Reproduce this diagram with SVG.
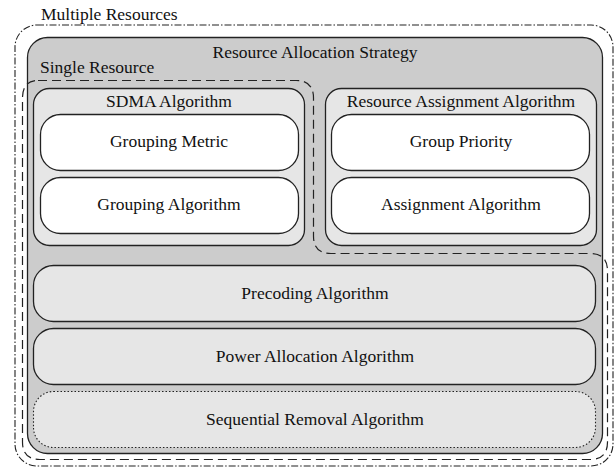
<svg xmlns="http://www.w3.org/2000/svg" width="615" height="470" viewBox="0 0 615 470">
  <style>
    text { font-family: "Liberation Serif", "Times New Roman", serif; font-size: 17.5px; fill: #111; }
    .mid { text-anchor: middle; }
    .strategy { fill: #cccccc; stroke: #222; stroke-width: 1.3; }
    .panel { fill: #e6e6e6; stroke: #222; stroke-width: 1.3; }
    .leaf { fill: #ffffff; stroke: #222; stroke-width: 1.3; }
    .optional { fill: #e6e6e6; stroke: #222; stroke-width: 1.1; stroke-dasharray: 1.5 2; }
    .multi { fill: none; stroke: #222; stroke-width: 1.1; stroke-dasharray: 7 2 1.5 2; }
    .single { fill: none; stroke: #222; stroke-width: 1.2; stroke-dasharray: 9 5; }
  </style>

  <!-- Scope: multiple resources (dash-dot) -->
  <g id="multiple-resources">
    <rect class="multi" x="15" y="25" width="598" height="441" rx="22"/>
    <text x="41" y="20">Multiple Resources</text>
  </g>

  <!-- Overall strategy container -->
  <g id="resource-allocation-strategy">
    <rect class="strategy" x="27.5" y="37.5" width="575" height="416" rx="20"/>
    <text class="mid" x="315" y="58">Resource Allocation Strategy</text>
  </g>

  <!-- SDMA algorithm panel -->
  <g id="sdma-algorithm">
    <rect class="panel" x="33.5" y="88.5" width="271" height="157" rx="16"/>
    <text class="mid" x="169" y="107">SDMA Algorithm</text>
  </g>
  <g id="grouping-metric">
    <rect class="leaf" x="40.5" y="114.5" width="258" height="56" rx="20"/>
    <text class="mid" x="169" y="147">Grouping Metric</text>
  </g>
  <g id="grouping-algorithm">
    <rect class="leaf" x="40.5" y="177.5" width="258" height="56" rx="20"/>
    <text class="mid" x="169" y="210">Grouping Algorithm</text>
  </g>

  <!-- Resource assignment panel -->
  <g id="resource-assignment-algorithm">
    <rect class="panel" x="325.5" y="88.5" width="271" height="157" rx="16"/>
    <text class="mid" x="461" y="107">Resource Assignment Algorithm</text>
  </g>
  <g id="group-priority">
    <rect class="leaf" x="331.5" y="114.5" width="258" height="56" rx="20"/>
    <text class="mid" x="461" y="147">Group Priority</text>
  </g>
  <g id="assignment-algorithm">
    <rect class="leaf" x="331.5" y="177.5" width="258" height="56" rx="20"/>
    <text class="mid" x="461" y="210">Assignment Algorithm</text>
  </g>

  <!-- Full-width stages -->
  <g id="precoding-algorithm">
    <rect class="panel" x="33.5" y="265.5" width="562" height="56" rx="20"/>
    <text class="mid" x="315" y="299">Precoding Algorithm</text>
  </g>
  <g id="power-allocation-algorithm">
    <rect class="panel" x="33.5" y="328.5" width="562" height="56" rx="20"/>
    <text class="mid" x="315" y="362">Power Allocation Algorithm</text>
  </g>
  <g id="sequential-removal-algorithm">
    <rect class="optional" x="33.5" y="391.5" width="562" height="56" rx="20"/>
    <text class="mid" x="315" y="425">Sequential Removal Algorithm</text>
  </g>

  <!-- Scope: single resource (dashed outline) -->
  <g id="single-resource">
    <path class="single" d="M 38 80.5 L 296 80.5 Q 313.5 80.5 313.5 98 L 313.5 236 Q 313.5 253.5 331 253.5 L 590 253.5 Q 607.5 253.5 607.5 271 L 607.5 442 Q 607.5 459.5 590 459.5 L 40 459.5 Q 22.5 459.5 22.5 442 L 22.5 98 Q 22.5 80.5 38 80.5 Z"/>
    <text x="40" y="73">Single Resource</text>
  </g>
</svg>
